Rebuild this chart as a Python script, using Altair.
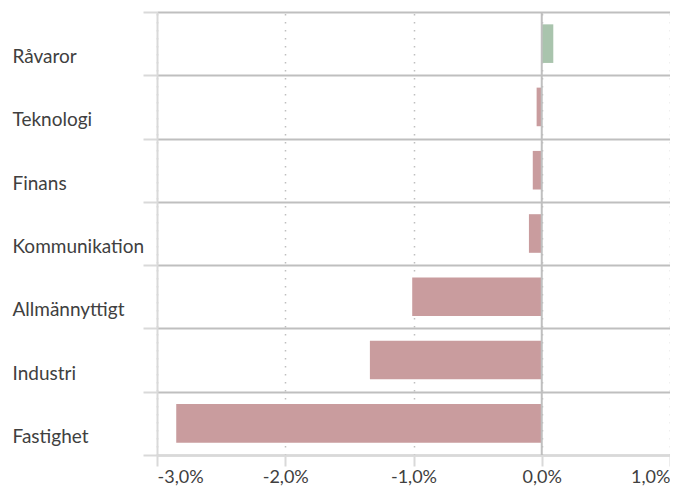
import altair as alt
import pandas as pd

categories = ["Råvaror", "Teknologi", "Finans", "Kommunikation", "Allmännyttigt", "Industri", "Fastighet"]
values = [0.09, -0.04, -0.07, -0.10, -1.01, -1.34, -2.85]
x_ticks = [-3, -2, -1, 0, 1]

df = pd.DataFrame({"sektor": categories, "avkastning": values})
df["tecken"] = ["pos" if v > 0 else "neg" for v in values]

label_expr = "(datum.value < 0 ? '-' : '') + replace(format(abs(datum.value), '.1f'), '.', ',') + '%'"

y_enc = alt.Y(
    "sektor:N",
    sort=categories,
    scale=alt.Scale(paddingInner=0, paddingOuter=0),
    axis=alt.Axis(
        title=None,
        tickBand="extent",
        grid=True,
        gridColor="#bfbfbf",
        gridWidth=2,
        domainColor="#d9d9d9",
        domainWidth=2,
        tickColor="#d9d9d9",
        tickWidth=2,
        tickSize=14,
        labelAlign="left",
        labelBaseline="middle",
        labelPadding=131,
        labelOffset=13,
        labelFont="Lato",
        labelFontSize=19,
        labelColor="#404040",
    ),
)

x_enc = alt.X(
    "avkastning:Q",
    scale=alt.Scale(domain=[-3, 1], nice=False, zero=False),
    axis=alt.Axis(
        title=None,
        values=x_ticks,
        labelExpr=label_expr,
        labelFlush=True,
        grid=True,
        gridColor="#bfbfbf",
        gridDash=[1.5, 6.5],
        gridWidth=1.5,
        domainColor="#d9d9d9",
        domainWidth=2,
        tickColor="#d9d9d9",
        tickWidth=2,
        tickSize=11,
        labelPadding=2,
        labelFont="Lato",
        labelFontSize=18,
        labelColor="#404040",
    ),
)

bars = alt.Chart(df).mark_bar(height={"band": 0.61}).encode(
    y=y_enc,
    x=x_enc,
    color=alt.Color("tecken:N", scale=alt.Scale(domain=["pos", "neg"], range=["#a9c4ad", "#c99c9e"]), legend=None),
)

zero = alt.Chart(pd.DataFrame({"noll": [0]})).mark_rule(color="#bfbfbf", strokeWidth=2).encode(
    x=alt.X("noll:Q")
)

chart = alt.layer(bars, zero).properties(
    width=513,
    height=443,
    autosize="none",
    padding={"left": 149, "top": 4, "right": 0, "bottom": 31},
).configure_view(stroke=None)

chart.save("out.html", embed_options={"renderer": "svg", "actions": False})
